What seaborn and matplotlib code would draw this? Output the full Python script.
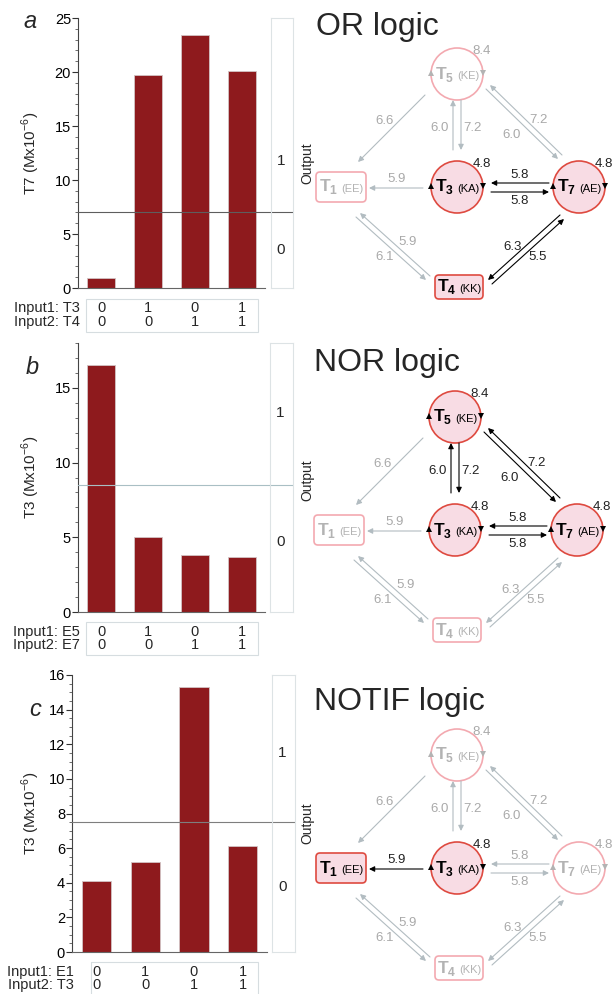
import matplotlib
matplotlib.use('Agg')
import matplotlib.pyplot as plt
import matplotlib.transforms as mtransforms
from matplotlib.patches import Rectangle, Circle, FancyBboxPatch
from matplotlib.ticker import MultipleLocator
import pandas as pd
import seaborn as sns

W, H = 613, 994

# ---- bar chart data ----
combos = ['00', '10', '01', '11']
input1_states = [0, 1, 0, 1]
input2_states = [0, 0, 1, 1]

or_values = [0.9, 19.7, 23.4, 20.1]
nor_values = [16.5, 5.0, 3.8, 3.7]
notif_values = [4.1, 5.2, 15.3, 6.1]
panel_values = [or_values, nor_values, notif_values]

thresholds = [7.0, 8.5, 7.5]
y_labels = ['T7 (Mx10$^{-6}$)', 'T3 (Mx10$^{-6}$)', 'T3 (Mx10$^{-6}$)']
input1_names = ['Input1: T3', 'Input1: E5', 'Input1: E1']
input2_names = ['Input2: T4', 'Input2: E7', 'Input2: T3']
panel_letters = ['a', 'b', 'c']
logic_titles = ['OR logic', 'NOR logic', 'NOTIF logic']

# ---- network data ----
node_tags = {'T1': 'EE', 'T3': 'KA', 'T4': 'KK', 'T5': 'KE', 'T7': 'AE'}
self_rates = {'T3': '4.8', 'T5': '8.4', 'T7': '4.8'}
edge_rates = {('T5', 'T1'): '6.6', ('T3', 'T1'): '5.9',
              ('T3', 'T5'): '6.0', ('T5', 'T3'): '7.2',
              ('T7', 'T5'): '7.2', ('T5', 'T7'): '6.0',
              ('T7', 'T3'): '5.8', ('T3', 'T7'): '5.8',
              ('T4', 'T1'): '5.9', ('T1', 'T4'): '6.1',
              ('T7', 'T4'): '6.3', ('T4', 'T7'): '5.5'}
active_nodes = [['T3', 'T4', 'T7'], ['T3', 'T5', 'T7'], ['T1', 'T3']]
active_edges = [[('T3', 'T7'), ('T7', 'T3'), ('T4', 'T7'), ('T7', 'T4')],
                [('T3', 'T5'), ('T5', 'T3'), ('T5', 'T7'), ('T7', 'T5'),
                 ('T3', 'T7'), ('T7', 'T3')],
                [('T3', 'T1')]]

# ---- layout (pixels) ----
bar_boxes = [(78, 18, 265, 288), (78, 343, 265, 612), (72, 675, 267, 952)]
out_boxes = [(271, 18, 293, 288), (270, 343, 293, 612), (272, 675, 295, 952)]
y_limits = [(0, 25), (0, 18), (0, 16)]
major_steps = [5, 5, 2]
minor_steps = [1, 1, 0.5]
table_rows = [(308, 322), (632, 645), (972, 985)]
table_boxes = [(86, 299, 258, 332), (86, 622, 258, 655), (91, 962, 258, 996)]
table_label_x = [80, 80, 74]
out_label_pos = [(0.47, 0.14), (0.74, 0.26), (0.72, 0.235)]
letter_pos = [(30, 22), (32, 367), (35, 710)]
title_pos = [(316, 27), (314, 363), (314, 702)]
output_pos = [(307, 163), (307, 480), (307, 823)]
net_centers = [(457, 187), (455, 530), (457, 868)]
threshold_colors = ['#5e5e5e', '#a9bfc4', '#7e7e7e']

node_xy = {'T3': (0, 0), 'T5': (0, -113), 'T7': (122, 0),
           'T1': (-116, 0), 'T4': (2, 100)}
# start, end, label position of every directed edge
edge_geom = {('T5', 'T1'): ((-32, -92), (-99, -25), (-72, -66)),
             ('T3', 'T1'): ((-34, 1), (-88, 1), (-60, -8)),
             ('T3', 'T5'): ((-4, -37), (-4, -87), (-17, -59)),
             ('T5', 'T3'): ((4, -87), (4, -37), (15, -59)),
             ('T7', 'T5'): ((105, -32), (33, -102), (81, -67)),
             ('T5', 'T7'): ((29, -98), (101, -28), (55, -52)),
             ('T7', 'T3'): ((92, -4), (34, -4), (63, -12)),
             ('T3', 'T7'): ((34, 5), (92, 5), (63, 14)),
             ('T4', 'T1'): ((-27, 89), (-97, 26), (-49, 55)),
             ('T1', 'T4'): ((-101, 30), (-31, 93), (-72, 70)),
             ('T7', 'T4'): ((103, 28), (31, 93), (56, 60)),
             ('T4', 'T7'): ((35, 97), (107, 32), (81, 70))}

BAR_COLOR = '#8e1a1d'
ACTIVE_FILL = '#f8dce4'
ACTIVE_EDGE = '#de4a40'
IDLE_EDGE = '#f3a9b0'
IDLE_TEXT = '#b3b3b3'
IDLE_LINE = '#b2bcc1'

sns.set_theme(style='ticks')
plt.rcParams['font.family'] = ['Liberation Sans', 'DejaVu Sans']
plt.rcParams['mathtext.fontset'] = 'custom'
plt.rcParams['mathtext.rm'] = 'Liberation Sans'
plt.rcParams['mathtext.bf'] = 'Liberation Sans:bold'

fig = plt.figure(figsize=(W / 100, H / 100), dpi=100)


def px_axes(box, **kw):
    x0, y0, x1, y1 = box
    return fig.add_axes([x0 / W, 1 - y1 / H, (x1 - x0) / W, (y1 - y0) / H], **kw)


over = fig.add_axes([0, 0, 1, 1], zorder=5)
over.set_xlim(0, W)
over.set_ylim(H, 0)
over.axis('off')
over.patch.set_alpha(0)


def draw_network(cx, cy, on_nodes, on_edges):
    for (src, dst), rate in edge_rates.items():
        (sx, sy), (ex, ey), (lx, ly) = edge_geom[(src, dst)]
        on = (src, dst) in on_edges
        col = 'black' if on else IDLE_LINE
        over.annotate('', xy=(cx + ex, cy + ey), xytext=(cx + sx, cy + sy),
                      arrowprops=dict(arrowstyle='-|>', color=col, lw=0.8,
                                      mutation_scale=8, shrinkA=0, shrinkB=0))
        over.text(cx + lx, cy + ly, rate, fontsize=9.5, ha='center', va='center',
                  color='#222222' if on else '#a9a9a9')
    for name, (nx, ny) in node_xy.items():
        on = name in on_nodes
        x, y = cx + nx, cy + ny
        fill = ACTIVE_FILL if on else 'white'
        edge = ACTIVE_EDGE if on else IDLE_EDGE
        tcol = 'black' if on else IDLE_TEXT
        if name in ('T1', 'T4'):
            w, h = (50, 30) if name == 'T1' else (48, 24)
            over.add_patch(FancyBboxPatch((x - w / 2, y - h / 2), w, h,
                                          boxstyle='round,pad=0,rounding_size=4',
                                          fc=fill, ec=edge, lw=1.2))
        else:
            over.add_patch(Circle((x, y), 26, fc=fill, ec=edge, lw=1.2))
            over.plot(x - 26, y - 1, marker='^', ms=4, color=tcol, mew=0)
            over.plot(x + 26, y - 1, marker='v', ms=4, color=tcol, mew=0)
            over.text(x + 25, y - 23, self_rates[name], fontsize=9.5,
                      ha='center', va='center',
                      color='#222222' if on else '#a9a9a9')
        over.text(x - 12, y, r'$\mathbf{T}_{\mathbf{%s}}$' % name[1:],
                  fontsize=12.5, ha='center', va='center', color=tcol)
        over.text(x + 11, y + 2, '(%s)' % node_tags[name], fontsize=8,
                  ha='center', va='center', color=tcol)


for i in range(3):
    ax = px_axes(bar_boxes[i])
    df = pd.DataFrame({'combo': combos, 'value': panel_values[i]})
    sns.barplot(data=df, x='combo', y='value', order=combos, color=BAR_COLOR,
                saturation=1, width=0.6, edgecolor='#d2c4c4', linewidth=0.6,
                ax=ax)
    ax.set_xlim(-0.5, 3.5)
    ax.set_ylim(*y_limits[i])
    ax.yaxis.set_major_locator(MultipleLocator(major_steps[i]))
    ax.yaxis.set_minor_locator(MultipleLocator(minor_steps[i]))
    ax.tick_params(axis='y', which='major', length=4, width=0.8,
                   labelsize=10.5, pad=1, colors='#333333', labelcolor='black')
    ax.tick_params(axis='y', which='minor', length=2, width=0.6, colors='#555555')
    ax.tick_params(axis='x', length=0, labelbottom=False)
    ax.set_xlabel('')
    for side in ('top', 'right'):
        ax.spines[side].set_visible(False)
    ax.spines['left'].set_color('#444444')
    ax.spines['bottom'].set_color('#666666')
    ax.spines['left'].set_linewidth(0.8)
    ax.spines['bottom'].set_linewidth(0.8)
    ax.set_ylabel(y_labels[i], fontsize=11)
    bx0, by0, bx1, by1 = bar_boxes[i]
    ax.yaxis.set_label_coords((42 - bx0) / (bx1 - bx0), 0.5)

    # threshold, running on through the output box
    ox0, oy0, ox1, oy1 = out_boxes[i]
    trans = mtransforms.blended_transform_factory(ax.transAxes, ax.transData)
    ax.plot([0, (ox1 - bx0) / (bx1 - bx0)], [thresholds[i]] * 2,
            color=threshold_colors[i], lw=0.8, transform=trans,
            clip_on=False, zorder=5)

    axo = px_axes(out_boxes[i])
    axo.set_xticks([])
    axo.set_yticks([])
    axo.patch.set_alpha(0)
    for sp in axo.spines.values():
        sp.set_color('#dde3e5')
        sp.set_linewidth(0.8)
    axo.text(0.45, out_label_pos[i][0], '1', fontsize=11, ha='center',
             va='center', transform=axo.transAxes)
    axo.text(0.45, out_label_pos[i][1], '0', fontsize=11, ha='center',
             va='center', transform=axo.transAxes)

    # truth table under the bars
    tx0, ty0, tx1, ty1 = table_boxes[i]
    over.add_patch(Rectangle((tx0, ty0), tx1 - tx0, ty1 - ty0, fill=False,
                             ec='#d6dde0', lw=0.8))
    ttrans = mtransforms.blended_transform_factory(ax.transData, over.transData)
    r1, r2 = table_rows[i]
    for k in range(len(combos)):
        ax.text(k, r1, str(input1_states[k]), transform=ttrans, fontsize=10.5,
                ha='center', va='center', clip_on=False)
        ax.text(k, r2, str(input2_states[k]), transform=ttrans, fontsize=10.5,
                ha='center', va='center', clip_on=False)
    over.text(table_label_x[i], r1, input1_names[i], fontsize=10.5,
              ha='right', va='center')
    over.text(table_label_x[i], r2, input2_names[i], fontsize=10.5,
              ha='right', va='center')

    over.text(*letter_pos[i], panel_letters[i], fontsize=17, style='italic',
              ha='center', va='center')
    over.text(*title_pos[i], logic_titles[i], fontsize=23, ha='left',
              va='center')
    over.text(*output_pos[i], 'Output', fontsize=10, rotation=90,
              ha='center', va='center')

    draw_network(*net_centers[i], active_nodes[i], active_edges[i])

fig.savefig('out.png', dpi=100)
